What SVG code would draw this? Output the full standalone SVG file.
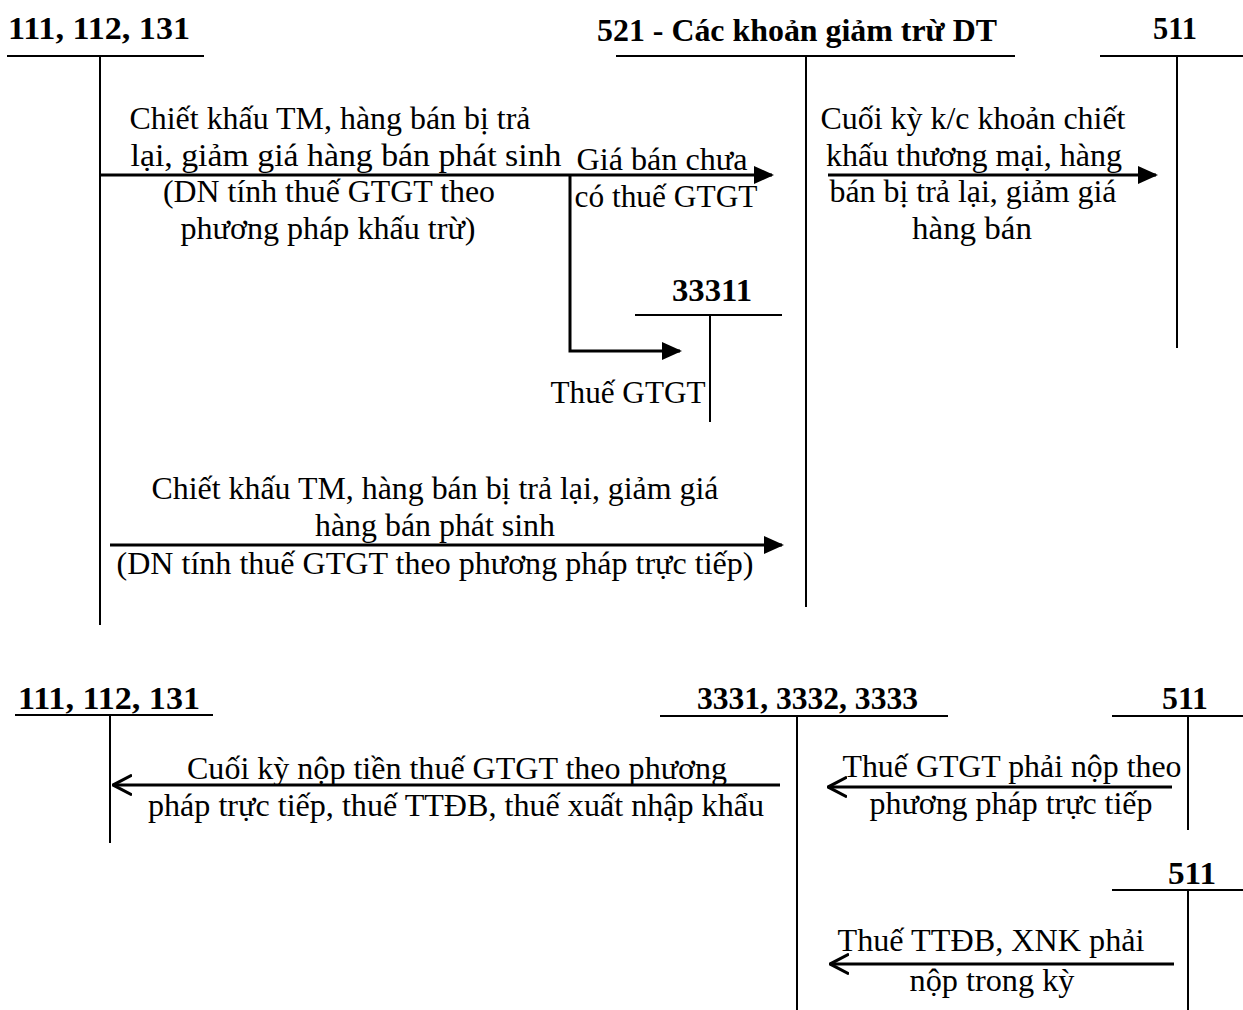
<svg xmlns="http://www.w3.org/2000/svg" width="1243" height="1010" viewBox="0 0 1243 1010">
  <style>
    .acc { font-family: "Liberation Serif", "Times New Roman", serif; font-size: 31px; font-weight: bold; fill: #000; }
    .lbl { font-family: "Liberation Serif", "Times New Roman", serif; font-size: 31px; fill: #000; text-anchor: middle; }
    .ln { stroke: #000; stroke-width: 2; fill: none; }
    .arr { stroke: #000; stroke-width: 3; fill: none; }
  </style>
  <defs>
    <!-- filled head for debit transfers -->
    <marker id="solid" viewBox="0 0 10 10" refX="9" refY="5" markerWidth="20" markerHeight="18" markerUnits="userSpaceOnUse" orient="auto" preserveAspectRatio="none">
      <path d="M0,0 L10,5 L0,10 Z" fill="#000"/>
    </marker>
    <!-- open head for tax entries -->
    <marker id="open" viewBox="0 0 10 10" refX="9.5" refY="5" markerWidth="20" markerHeight="22" markerUnits="userSpaceOnUse" orient="auto" preserveAspectRatio="none">
      <path d="M0,0.5 L9.5,5 L0,9.5" fill="none" stroke="#000" stroke-width="1.4"/>
    </marker>
  </defs>
  <rect width="1243" height="1010" fill="#fff"/>

  <!-- T-accounts, upper entry -->
  <g id="acc-111-top">
    <text class="acc" x="8" y="39" textLength="182" lengthAdjust="spacingAndGlyphs">111, 112, 131</text>
    <line class="ln" x1="7" y1="56" x2="204" y2="56"/>
    <line class="ln" x1="100" y1="56" x2="100" y2="625"/>
  </g>
  <g id="acc-521">
    <text class="acc" x="597" y="41" textLength="400" lengthAdjust="spacingAndGlyphs">521 - Các khoản giảm trừ DT</text>
    <line class="ln" x1="616" y1="56" x2="1015" y2="56"/>
    <line class="ln" x1="806" y1="56" x2="806" y2="607"/>
  </g>
  <g id="acc-511-top">
    <text class="acc" x="1153" y="39" textLength="44" lengthAdjust="spacingAndGlyphs">511</text>
    <line class="ln" x1="1100" y1="56" x2="1243" y2="56"/>
    <line class="ln" x1="1177" y1="56" x2="1177" y2="348"/>
  </g>
  <g id="acc-33311">
    <text class="acc" x="672" y="301" textLength="80" lengthAdjust="spacingAndGlyphs">33311</text>
    <line class="ln" x1="635" y1="315" x2="782" y2="315"/>
    <line class="ln" x1="710" y1="315" x2="710" y2="422"/>
  </g>

  <!-- T-accounts, lower entry -->
  <g id="acc-111-bottom">
    <text class="acc" x="18" y="709" textLength="182" lengthAdjust="spacingAndGlyphs">111, 112, 131</text>
    <line class="ln" x1="15" y1="715" x2="213" y2="715"/>
    <line class="ln" x1="110" y1="715" x2="110" y2="843"/>
  </g>
  <g id="acc-3331">
    <text class="acc" x="697" y="709" textLength="221" lengthAdjust="spacingAndGlyphs">3331, 3332, 3333</text>
    <line class="ln" x1="660" y1="716" x2="948" y2="716"/>
    <line class="ln" x1="797" y1="716" x2="797" y2="1010"/>
  </g>
  <g id="acc-511-mid">
    <text class="acc" x="1162" y="709" textLength="46" lengthAdjust="spacingAndGlyphs">511</text>
    <line class="ln" x1="1112" y1="716" x2="1243" y2="716"/>
    <line class="ln" x1="1188" y1="716" x2="1188" y2="830"/>
  </g>
  <g id="acc-511-low">
    <text class="acc" x="1168" y="884" textLength="48" lengthAdjust="spacingAndGlyphs">511</text>
    <line class="ln" x1="1112" y1="890" x2="1243" y2="890"/>
    <line class="ln" x1="1188" y1="890" x2="1188" y2="1010"/>
  </g>

  <!-- Connectors -->
  <g id="connectors">
    <line class="arr" x1="100" y1="175" x2="772" y2="175" marker-end="url(#solid)"/>
    <polyline class="arr" points="570,175 570,351 680,351" marker-end="url(#solid)"/>
    <line class="arr" x1="828" y1="175" x2="1156" y2="175" marker-end="url(#solid)"/>
    <line class="arr" x1="110" y1="545" x2="782" y2="545" marker-end="url(#solid)"/>
    <line class="arr" x1="780" y1="785" x2="113" y2="785" marker-end="url(#open)"/>
    <line class="arr" x1="1172" y1="787" x2="828" y2="787" marker-end="url(#open)"/>
    <line class="arr" x1="1174" y1="964" x2="830" y2="964" marker-end="url(#open)"/>
  </g>

  <!-- Entry labels -->
  <g id="labels">
    <text class="lbl" x="330" y="129" textLength="401" lengthAdjust="spacingAndGlyphs">Chiết khấu TM, hàng bán bị trả</text>
    <text class="lbl" x="346" y="166" textLength="431" lengthAdjust="spacingAndGlyphs">lại, giảm giá hàng bán phát sinh</text>
    <text class="lbl" x="329" y="202" textLength="332" lengthAdjust="spacingAndGlyphs">(DN tính thuế GTGT theo</text>
    <text class="lbl" x="328" y="239" textLength="295" lengthAdjust="spacingAndGlyphs">phương pháp khấu trừ)</text>

    <text class="lbl" x="662" y="170" textLength="171" lengthAdjust="spacingAndGlyphs">Giá bán chưa</text>
    <text class="lbl" x="666" y="207" textLength="183" lengthAdjust="spacingAndGlyphs">có thuế GTGT</text>

    <text class="lbl" x="628" y="403" textLength="155" lengthAdjust="spacingAndGlyphs">Thuế GTGT</text>

    <text class="lbl" x="973" y="129" textLength="305" lengthAdjust="spacingAndGlyphs">Cuối kỳ k/c khoản chiết</text>
    <text class="lbl" x="974" y="166" textLength="296" lengthAdjust="spacingAndGlyphs">khấu thương mại, hàng</text>
    <text class="lbl" x="973" y="202" textLength="287" lengthAdjust="spacingAndGlyphs">bán bị trả lại, giảm giá</text>
    <text class="lbl" x="972" y="239" textLength="120" lengthAdjust="spacingAndGlyphs">hàng bán</text>

    <text class="lbl" x="435" y="499" textLength="567" lengthAdjust="spacingAndGlyphs">Chiết khấu TM, hàng bán bị trả lại, giảm giá</text>
    <text class="lbl" x="435" y="536" textLength="240" lengthAdjust="spacingAndGlyphs">hàng bán phát sinh</text>
    <text class="lbl" x="435" y="574" textLength="637" lengthAdjust="spacingAndGlyphs">(DN tính thuế GTGT theo phương pháp trực tiếp)</text>

    <text class="lbl" x="457" y="779" textLength="540" lengthAdjust="spacingAndGlyphs">Cuối kỳ nộp tiền thuế GTGT theo phương</text>
    <text class="lbl" x="456" y="816" textLength="616" lengthAdjust="spacingAndGlyphs">pháp trực tiếp, thuế TTĐB, thuế xuất nhập khẩu</text>

    <text class="lbl" x="1012" y="777" textLength="339" lengthAdjust="spacingAndGlyphs">Thuế GTGT phải nộp theo</text>
    <text class="lbl" x="1011" y="814" textLength="283" lengthAdjust="spacingAndGlyphs">phương pháp trực tiếp</text>

    <text class="lbl" x="991" y="951" textLength="307" lengthAdjust="spacingAndGlyphs">Thuế TTĐB, XNK phải</text>
    <text class="lbl" x="992" y="991" textLength="165" lengthAdjust="spacingAndGlyphs">nộp trong kỳ</text>
  </g>
</svg>
